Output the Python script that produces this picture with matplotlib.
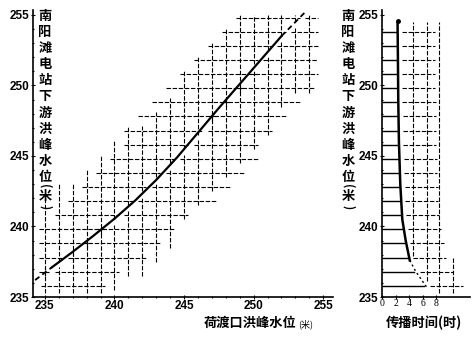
import numpy as np
import matplotlib
matplotlib.use('Agg')
import matplotlib.pyplot as plt

plt.rcParams['font.family'] = ['Noto Sans CJK SC', 'DejaVu Sans']

# stage relation: upstream (荷渡口) vs downstream (南阳滩) flood peak level
up_level = [234.3, 235.5, 237.0, 238.5, 240.0, 241.5, 243.0, 244.5, 246.0, 247.5, 249.0, 250.5, 252.0, 253.1, 253.8]
down_level = [236.2, 237.1, 238.2, 239.35, 240.55, 241.85, 243.3, 244.9, 246.65, 248.4, 250.1, 251.8, 253.5, 254.6, 255.3]

# travel time vs downstream level
travel_h = [2.3, 2.35, 2.4, 2.5, 2.7, 3.0, 3.5, 4.1, 5.0, 6.6]
travel_level = [254.4, 252.0, 249.0, 246.0, 243.0, 240.5, 239.0, 237.6, 236.8, 235.7]

ylabel_chars = list('南阳滩电站下游洪峰水位')

W, H = 472, 337
fig = plt.figure(figsize=(W / 100, H / 100), dpi=100)

def px_axes(x0, x1, ytop, ybot):
    return fig.add_axes([x0 / W, 1 - ybot / H, (x1 - x0) / W, (ybot - ytop) / H])

dash = dict(color='black', lw=0.8, ls=(0, (4, 1.5)))
tickfont = dict(family='Liberation Sans', weight='bold', size=8.5)

# ---- left panel ----
ax1 = px_axes(33, 333, 10, 297)
ax1.set_xlim(234.15, 255.7)
ax1.set_ylim(235, 255.35)

xc = lambda y: np.interp(y, down_level, up_level)
yc = lambda x: np.interp(x, up_level, down_level)

# hatched band of grid segments either side of the curve
for k in range(235, 255):
    y = k + 0.8
    c = xc(y)
    for a, b in [(c - 4.2, c - 0.6), (c + 0.9, c + 4.6)]:
        a = max(np.floor(a) - 0.3, 234.6)
        b = min(np.ceil(b) + 0.3, 254.6)
        if b > a:
            ax1.plot([a, b], [y, y], **dash)
for k in range(235, 255):
    c = yc(k)
    for a, b in [(c + 0.6, c + 4.4), (c - 4.6, c - 0.9)]:
        a = max(np.floor(a - 0.8) + 0.8 - 0.3, 235.3)
        b = min(np.ceil(b - 0.8) + 0.8 + 0.3, 255.0)
        if b > a:
            ax1.plot([k, k], [a, b], **dash)

xs = np.array(up_level)
ys = np.array(down_level)
ax1.plot(xs[:2], ys[:2], color='black', lw=1.3, ls=(0, (3, 2)))
ax1.plot(xs[1:13], ys[1:13], color='black', lw=1.6)
ax1.plot(xs[12:], ys[12:], color='black', lw=1.3, ls=(0, (3, 2)))

ax1.spines[['top', 'right']].set_visible(False)
ax1.spines[['left', 'bottom']].set_linewidth(1.2)
ax1.set_xticks([235, 240, 245, 250, 255])
ax1.set_yticks([235, 240, 245, 250, 255])
ax1.set_xticks(np.arange(235, 256, 1), minor=True)
ax1.set_yticks(np.arange(235, 256, 1), minor=True)
ax1.set_xticklabels(['235', '240', '245', '250', '255'], **tickfont)
ax1.set_yticklabels(['235', '240', '245', '250', '255'], **tickfont)
ax1.tick_params(which='both', direction='inout', length=3, width=0.8, pad=1)
ax1.tick_params(which='minor', length=2)

# ---- right panel ----
ax2 = px_axes(382, 470, 10, 297)
ax2.set_xlim(0, 13)
ax2.set_ylim(235, 255.35)

tc = lambda y: np.interp(y, travel_level[::-1], travel_h[::-1])
for k in range(235, 254):
    y = k + 0.8
    c = tc(y)
    ax2.plot([0, c - 0.2], [y, y], color='black', lw=1.0)
    ax2.plot([c + 0.6, min(c + 5.5, 12)], [y, y], **dash)
for xv in [4.6, 6.6, 8.4, 10.5]:
    yy = np.linspace(235.3, 254.5, 200)
    ok = (tc(yy) + 0.6 < xv) & (tc(yy) + 6.5 > xv)
    if ok.any():
        ax2.plot([xv, xv], [yy[ok].min(), yy[ok].max()], **dash)

th = np.array(travel_h)
tl = np.array(travel_level)
ax2.plot(th[:8], tl[:8], color='black', lw=1.8)
ax2.plot(th[7:], tl[7:], color='black', lw=1.0, ls=(0, (1.5, 2)))
ax2.plot(th[0], tl[0] + 0.2, 'o', color='black', ms=2.5)

ax2.spines[['top', 'right']].set_visible(False)
ax2.spines[['left', 'bottom']].set_linewidth(1.2)
ax2.set_xticks([0, 2, 4, 6, 8])
ax2.set_xticklabels(['0', '2', '4', '6', '8'], family='Liberation Serif', size=7)
ax2.set_yticks([235, 240, 245, 250, 255])
ax2.set_yticklabels(['235', '240', '245', '250', '255'], **tickfont)
ax2.set_yticks(np.arange(235, 256, 1), minor=True)
ax2.tick_params(which='both', direction='inout', length=3, width=0.8, pad=1)
ax2.tick_params(which='minor', length=2)
ax2.tick_params(axis='x', pad=0)

# ---- vertical stacked labels ----
ypos = [16 + 16.1 * i for i in range(11)]
for xcen in [45, 348]:
    for ch, yp in zip(ylabel_chars, ypos):
        fig.text(xcen / W, 1 - yp / H, ch, ha='center', va='center',
                 fontsize=9.5, fontweight='bold')
    fig.text(xcen / W, 1 - 186 / H, '(', rotation=-90, ha='center', va='center',
             fontsize=8, fontweight='bold')
    fig.text(xcen / W, 1 - 196 / H, '米', ha='center', va='center',
             fontsize=9.5, fontweight='bold')
    fig.text(xcen / W, 1 - 207 / H, ')', rotation=-90, ha='center', va='center',
             fontsize=8, fontweight='bold')

# ---- bottom labels ----
fig.text(250 / W, 1 - 323 / H, '荷渡口洪峰水位', ha='center', va='center',
         fontsize=9.5, fontweight='bold')
fig.text(298 / W, 1 - 324 / H, '(米)', ha='left', va='center', fontsize=6.5)
fig.text(424 / W, 1 - 323 / H, '传播时间(时)', ha='center', va='center',
         fontsize=9.5, fontweight='bold')

fig.savefig('out.png', dpi=100)
